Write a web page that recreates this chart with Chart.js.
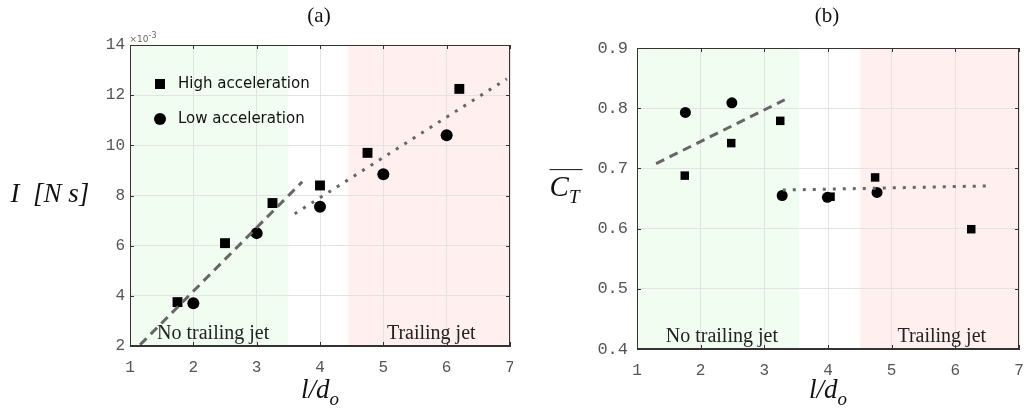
<!DOCTYPE html>
<html>
<head>
<meta charset="utf-8">
<script src="https://cdn.jsdelivr.net/npm/chart.js@4.4.1/dist/chart.umd.min.js"></script>
<style>
  html, body { margin: 0; padding: 0; background: #fff; }
  #wrap { position: relative; width: 1026px; height: 413px; overflow: hidden; }
  canvas { position: absolute; top: 0; }
  .lbl { position: absolute; transform: translate(-50%, -50%); white-space: nowrap; color: #111;
         font-family: "Liberation Serif", "DejaVu Serif", serif; }
  .math { font-style: italic; }
</style>
</head>
<body>
<div id="wrap">
  <canvas id="chartA" width="513" height="413" style="left:0"></canvas>
  <canvas id="chartB" width="513" height="413" style="left:513px"></canvas>

  <div class="lbl" style="left:319px;top:15px;font-size:21px">(a)</div>
  <div class="lbl" style="left:827px;top:15px;font-size:21px">(b)</div>

  <div class="lbl" style="left:143px;top:37px;font-size:9px;color:#666;font-family:'DejaVu Sans',sans-serif">&times;10<sup style="font-size:8px">-3</sup></div>

  <div class="lbl math" style="left:50px;top:193px;font-size:27px">I&nbsp;&nbsp;[N&nbsp;s]</div>
  <div class="lbl math" style="left:566px;top:190px;font-size:29px;border-top:1.5px solid #111;line-height:28px;padding:2px 3px 0 0">C<sub style="font-size:19px">T</sub></div>

  <div class="lbl math" style="left:320px;top:392px;font-size:27px">l/d<sub style="font-size:19px">o</sub></div>
  <div class="lbl math" style="left:828px;top:392px;font-size:27px">l/d<sub style="font-size:19px">o</sub></div>
</div>
<script>
// ---- data, panel (a): impulse ----
const highX_a = [1.75, 2.5, 3.25, 4.0, 4.75, 6.2];
const highY_a = [3.75, 6.1, 7.7, 8.4, 9.7, 12.25];
const lowX_a = [2, 3, 4, 5, 6];
const lowY_a = [3.7, 6.5, 7.55, 8.85, 10.4];
const dashX_a = [1.16, 3.72];
const dashY_a = [2.05, 8.55];
const dotX_a = [3.6, 6.95];
const dotY_a = [7.27, 12.65];
const yTicks_a = [2, 4, 6, 8, 10, 12, 14];

// ---- data, panel (b): thrust coefficient ----
const highX_b = [1.75, 2.48, 3.25, 4.04, 4.74, 6.25];
const highY_b = [0.688, 0.742, 0.779, 0.653, 0.685, 0.599];
const lowX_b = [1.76, 2.49, 3.28, 3.99, 4.77];
const lowY_b = [0.793, 0.809, 0.655, 0.652, 0.66];
const dashX_b = [1.3, 3.32];
const dashY_b = [0.708, 0.814];
const dotX_b = [3.29, 6.54];
const dotY_b = [0.664, 0.671];
const yTicks_b = [0.4, 0.5, 0.6, 0.7, 0.8, 0.9];

const xTicks = [1, 2, 3, 4, 5, 6, 7];
const seriesNames = ['High acceleration', 'Low acceleration'];
const regionNames = ['No trailing jet', 'Trailing jet'];
const noJet_a = [1, 3.5], jet_a = [4.45, 7];
const noJet_b = [1, 3.54], jet_b = [4.51, 7];

function pts(xs, ys) {
    return xs.map((x, i) => ({ x: x, y: ys[i] }));
}

// shaded regions, box, inner ticks and region captions
const decorPlugin = {
    id: 'decor',
    beforeDraw(chart, args, opts) {
        const { ctx, chartArea: a, scales: { x } } = chart;
        ctx.save();
        ctx.fillStyle = 'rgb(240,253,240)';
        let x0 = x.getPixelForValue(opts.noJet[0]), x1 = x.getPixelForValue(opts.noJet[1]);
        ctx.fillRect(x0, a.top, x1 - x0, a.bottom - a.top);
        ctx.fillStyle = 'rgb(255,239,239)';
        x0 = x.getPixelForValue(opts.jet[0]); x1 = x.getPixelForValue(opts.jet[1]);
        ctx.fillRect(x0, a.top, x1 - x0, a.bottom - a.top);
        ctx.restore();
    },
    afterDraw(chart, args, opts) {
        const { ctx, chartArea: a, scales: { x, y } } = chart;
        ctx.save();
        // captions
        ctx.fillStyle = '#222';
        ctx.font = '20px "Liberation Serif", serif';
        ctx.textAlign = 'center';
        ctx.textBaseline = 'alphabetic';
        ctx.fillText(regionNames[0], (x.getPixelForValue(opts.noJet[0]) + x.getPixelForValue(opts.noJet[1])) / 2 + 4, a.bottom - 7);
        ctx.fillText(regionNames[1], (x.getPixelForValue(opts.jet[0]) + x.getPixelForValue(opts.jet[1])) / 2 + 2, a.bottom - 7);
        // box
        ctx.strokeStyle = '#333';
        ctx.lineWidth = 1;
        ctx.strokeRect(a.left + 0.5, a.top + 0.5, a.right - a.left - 1, a.bottom - a.top - 1);
        // inner ticks
        ctx.beginPath();
        xTicks.forEach(v => {
            const px = Math.round(x.getPixelForValue(v)) + 0.5;
            ctx.moveTo(px, a.bottom); ctx.lineTo(px, a.bottom - 4);
            ctx.moveTo(px, a.top); ctx.lineTo(px, a.top + 4);
        });
        opts.yTicks.forEach(v => {
            const py = Math.round(y.getPixelForValue(v)) + 0.5;
            ctx.moveTo(a.left, py); ctx.lineTo(a.left + 4, py);
            ctx.moveTo(a.right, py); ctx.lineTo(a.right - 4, py);
        });
        ctx.stroke();
        // legend
        if (opts.legend) {
            ctx.fillStyle = '#000';
            ctx.fillRect(155, 79, 10, 10);
            ctx.beginPath();
            ctx.arc(160, 119, 6, 0, Math.PI * 2);
            ctx.fill();
            ctx.fillStyle = '#111';
            ctx.font = '15px "DejaVu Sans", sans-serif';
            ctx.textAlign = 'left';
            ctx.textBaseline = 'middle';
            ctx.fillText(seriesNames[0], 178, 84);
            ctx.fillText(seriesNames[1], 178, 119);
        }
        ctx.restore();
    }
};

function makeChart(id, d) {
    return new Chart(document.getElementById(id), {
        type: 'scatter',
        data: {
            datasets: [
                { label: seriesNames[0], data: pts(d.hx, d.hy), pointStyle: 'rect', pointRadius: d.sq,
                  backgroundColor: '#000', borderWidth: 0, order: 2 },
                { label: seriesNames[1], data: pts(d.lx, d.ly), pointStyle: 'circle', pointRadius: d.ci,
                  backgroundColor: '#000', borderWidth: 0, order: 1 },
                { type: 'line', data: pts(d.dx, d.dy), borderColor: '#666', borderWidth: 3,
                  borderDash: [9, 6], pointRadius: 0, fill: false, order: 0 },
                { type: 'line', data: pts(d.ox, d.oy), borderColor: '#666', borderWidth: 3,
                  borderDash: [3, 7], pointRadius: 0, fill: false, order: 0 }
            ]
        },
        options: {
            responsive: false,
            animation: false,
            layout: { autoPadding: false, padding: { top: d.top, right: d.right, left: 0, bottom: 0 } },
            plugins: {
                legend: { display: false },
                tooltip: { enabled: false },
                decor: { noJet: d.noJet, jet: d.jet, yTicks: d.yTicks, legend: d.legend }
            },
            scales: {
                x: {
                    type: 'linear', min: 1, max: 7,
                    afterBuildTicks: s => { s.ticks = xTicks.map(v => ({ value: v })); },
                    afterFit: s => { s.height = d.xh; s.paddingLeft = 0; s.paddingRight = 0; },
                    grid: { color: '#e3e3e3', drawTicks: false },
                    border: { color: '#333' },
                    ticks: { padding: 12, color: '#555', font: { family: '"Liberation Mono", monospace', size: 16 } }
                },
                y: {
                    type: 'linear', min: d.yTicks[0], max: d.yTicks[d.yTicks.length - 1],
                    afterBuildTicks: s => { s.ticks = d.yTicks.map(v => ({ value: v })); },
                    afterFit: s => { s.width = d.yw; s.paddingTop = 0; s.paddingBottom = 0; },
                    grid: { color: '#e3e3e3', drawTicks: false },
                    border: { color: '#333' },
                    ticks: { padding: d.ypad, color: '#555', callback: d.fmt,
                             font: { family: '"Liberation Mono", monospace', size: d.yfs } }
                }
            }
        },
        plugins: [decorPlugin]
    });
}

makeChart('chartA', {
    hx: highX_a, hy: highY_a, lx: lowX_a, ly: lowY_a,
    dx: dashX_a, dy: dashY_a, ox: dotX_a, oy: dotY_a,
    yTicks: yTicks_a, noJet: noJet_a, jet: jet_a, legend: true,
    sq: 7, ci: 6, top: 45, right: 3, yw: 130, xh: 67, ypad: 5, yfs: 16,
    fmt: v => String(v)
});

makeChart('chartB', {
    hx: highX_b, hy: highY_b, lx: lowX_b, ly: lowY_b,
    dx: dashX_b, dy: dashY_b, ox: dotX_b, oy: dotY_b,
    yTicks: yTicks_b, noJet: noJet_b, jet: jet_b, legend: false,
    sq: 6, ci: 5.5, top: 48, right: 7, yw: 124, xh: 64, ypad: 9, yfs: 17,
    fmt: v => v.toFixed(1)
});
</script>
</body>
</html>
